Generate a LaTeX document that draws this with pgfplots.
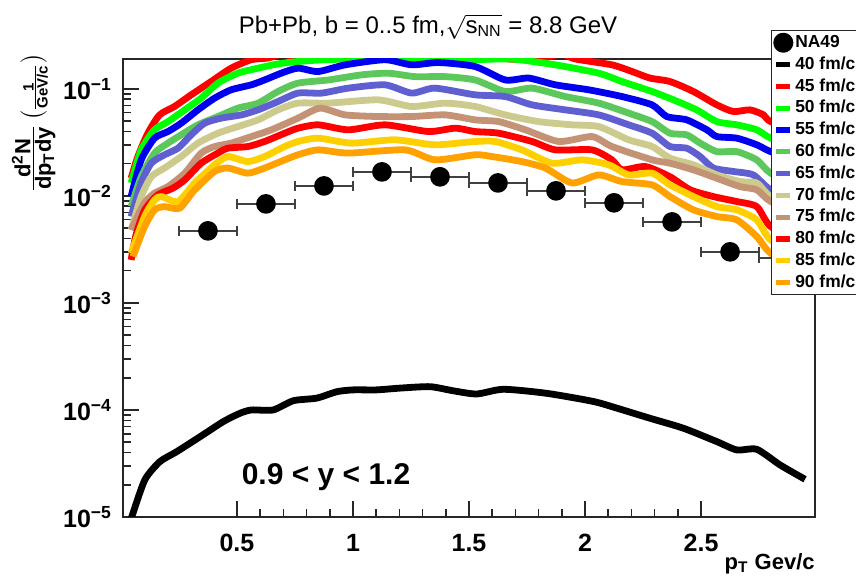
\documentclass[border=0pt]{standalone}
\usepackage{fontspec}
\setmainfont{Liberation Sans}
\usepackage{amsmath}
\usepackage{pgfplots}
\pgfplotsset{compat=1.18}
\definecolor{cRed}{HTML}{FF0000}
\definecolor{cGreen}{HTML}{00FF00}
\definecolor{cBlue}{HTML}{0000F0}
\definecolor{cMGreen}{HTML}{5CC85C}
\definecolor{cSlate}{HTML}{5F5FD2}
\definecolor{cKhaki}{HTML}{CDCA8E}
\definecolor{cTan}{HTML}{C49274}
\definecolor{cGold}{HTML}{FFD000}
\definecolor{cOrange}{HTML}{FFA200}
\begin{document}
\begin{tikzpicture}[x=1pt,y=1pt]
\path[use as bounding box] (0,0) rectangle (428,290.5);
\begin{axis}[name=ax, at={(61.5pt,32pt)}, anchor=south west, scale only axis,
  width=346pt, height=229pt,
  ymode=log, xmin=0.009, xmax=2.991, ymin=1e-5, ymax=0.19,
  axis line style={line width=0.8pt, black!85},
  xtick={0.5,1,1.5,2,2.5}, xticklabels={0.5,1,1.5,2,2.5},
  minor x tick num=4,
  ytick={1e-5,1e-4,1e-3,1e-2,1e-1},
  yticklabels={10\textsuperscript{−5},10\textsuperscript{−4},10\textsuperscript{−3},10\textsuperscript{−2},10\textsuperscript{−1}},
  xtick pos=bottom, ytick pos=left, tick align=inside,
  major tick length=8pt, minor tick length=4pt,
  tick style={line width=0.8pt, black!85},
  xticklabel style={font=\bfseries\fontsize{12.5}{12.5}\selectfont, yshift=-5pt},
  yticklabel style={font=\bfseries\fontsize{12.5}{12.5}\selectfont, xshift=-2pt},
  legend cell align=left,
  legend style={at={(0.936,1.063)}, anchor=north west, draw=black!85, fill=white,
    line width=0.6pt, font=\bfseries\fontsize{8.7}{9}\selectfont,
    inner sep=1pt, row sep=0.9pt,
    nodes={inner sep=1pt, text height=6.4pt, text depth=1.6pt}},
  legend image code/.code={\draw[#1, line width=2.6pt] (0pt,0pt) -- (7pt,0pt);},
  every axis plot/.append style={line width=3.4pt, line join=round},
]
% NA49 data
\addplot[only marks, mark=*, mark size=3.2pt, black,
  legend image code/.code={\fill[black] (3.5pt,0pt) circle (3.3pt);},
  error bars/.cd, x dir=both, x fixed=0.125, error mark=|,
  error bar style={line width=0.8pt, black!75},
  error mark options={line width=0.8pt, black!75, mark size=2.5pt}]
  coordinates {(0.375,0.00471)(0.625,0.00841)(0.875,0.01238)(1.125,0.01675)(1.375,0.01507)
  (1.625,0.01321)(1.875,0.01114)(2.125,0.00861)(2.375,0.00571)(2.625,0.00300)(2.875,0.00264)};
\addlegendentry{NA49}
% 40 fm/c
\addplot[black, smooth, tension=0.4] coordinates {(0.03,0.0000075)(0.046,0.0000099)(0.103,0.0000222)(0.168,0.0000329)(0.240,0.0000407)(0.341,0.0000562)(0.441,0.0000778)(0.513,0.0000931)(0.563,0.0001)(0.656,0.0001)(0.743,0.000122)(0.844,0.000129)(0.930,0.000148)(1.001,0.000154)(1.102,0.000154)(1.203,0.00016)(1.332,0.000165)(1.432,0.000151)(1.533,0.000141)(1.648,0.000156)(1.835,0.000143)(2.036,0.00012)(2.137,0.000104)(2.280,0.0000836)(2.424,0.0000675)(2.568,0.0000506)(2.654,0.0000423)(2.740,0.0000429)(2.841,0.0000306)(2.948,0.0000225)};
\addlegendentry{40 fm/c}
% 45 fm/c
\addplot[cRed, smooth, tension=0.4] coordinates {(0.044,0.0146)(0.073,0.0233)(0.116,0.0385)(0.167,0.0571)(0.231,0.0684)(0.303,0.0879)(0.389,0.117)(0.475,0.156)(0.562,0.187)(0.634,0.194)(0.70,0.212)(0.76,0.194)(0.85,0.196)(0.95,0.23)(1.2,0.25)(1.4,0.24)(1.55,0.22)(1.67,0.19)(1.80,0.19)(1.85,0.20)(1.90,0.212)(1.958,0.190)(2.116,0.1675)(2.203,0.145)(2.280,0.126)(2.366,0.117)(2.467,0.0944)(2.568,0.0708)(2.639,0.0614)(2.711,0.0636)(2.769,0.0571)(2.800,0.0494)(2.95,0.038)};
\addlegendentry{45 fm/c}
% 50 fm/c
\addplot[cGreen, smooth, tension=0.4] coordinates {(0.044,0.0132)(0.0875,0.0269)(0.145,0.0414)(0.203,0.0494)(0.275,0.0636)(0.346,0.0819)(0.418,0.113)(0.504,0.140)(0.591,0.156)(0.677,0.171)(0.763,0.180)(0.9,0.188)(1.1,0.19)(1.3,0.19)(1.513,0.187)(1.685,0.190)(1.872,0.1675)(2.059,0.140)(2.159,0.117)(2.289,0.0944)(2.381,0.0789)(2.481,0.0636)(2.568,0.0494)(2.654,0.0461)(2.740,0.0414)(2.800,0.0346)(2.95,0.027)};
\addlegendentry{50 fm/c}
% 55 fm/c
\addplot[cBlue, smooth, tension=0.4] coordinates {(0.044,0.00985)(0.0875,0.0217)(0.145,0.0346)(0.203,0.0399)(0.260,0.0478)(0.332,0.0636)(0.404,0.0819)(0.475,0.0979)(0.562,0.109)(0.619,0.121)(0.691,0.140)(0.763,0.156)(0.850,0.145)(0.966,0.1675)(1.138,0.187)(1.253,0.1675)(1.368,0.176)(1.526,0.1616)(1.656,0.121)(1.757,0.126)(1.872,0.109)(2.016,0.0979)(2.159,0.0847)(2.289,0.0708)(2.352,0.0551)(2.438,0.0513)(2.525,0.0414)(2.568,0.0358)(2.654,0.0346)(2.740,0.0300)(2.800,0.0259)(2.95,0.020)};
\addlegendentry{55 fm/c}
% 60 fm/c
\addplot[cMGreen, smooth, tension=0.4] coordinates {(0.044,0.00794)(0.0875,0.0151)(0.145,0.0251)(0.203,0.0311)(0.260,0.0372)(0.332,0.0461)(0.418,0.0551)(0.504,0.0660)(0.591,0.0735)(0.677,0.0944)(0.763,0.113)(0.894,0.121)(1.037,0.135)(1.152,0.140)(1.267,0.130)(1.397,0.130)(1.526,0.121)(1.656,0.0944)(1.772,0.1015)(1.915,0.0847)(2.059,0.0735)(2.188,0.0593)(2.289,0.0494)(2.366,0.0385)(2.438,0.0372)(2.496,0.0311)(2.568,0.0259)(2.654,0.0259)(2.740,0.0217)(2.800,0.0163)(2.95,0.0115)};
\addlegendentry{60 fm/c}
% 65 fm/c
\addplot[cSlate, smooth, tension=0.4] coordinates {(0.044,0.00641)(0.0875,0.0132)(0.131,0.0202)(0.188,0.0242)(0.246,0.0279)(0.303,0.0372)(0.361,0.0478)(0.432,0.0532)(0.519,0.0571)(0.591,0.0636)(0.677,0.0761)(0.763,0.0912)(0.865,0.0912)(0.980,0.1015)(1.138,0.109)(1.253,0.0912)(1.353,0.1015)(1.526,0.0879)(1.656,0.0847)(1.772,0.0708)(1.915,0.0636)(2.059,0.0571)(2.188,0.0461)(2.289,0.0385)(2.366,0.0289)(2.438,0.0279)(2.496,0.0233)(2.553,0.0182)(2.639,0.0169)(2.725,0.0157)(2.800,0.0114)(2.95,0.0085)};
\addlegendentry{65 fm/c}
% 70 fm/c
\addplot[cKhaki, smooth, tension=0.4] coordinates {(0.044,0.00481)(0.0875,0.00985)(0.131,0.0151)(0.188,0.0182)(0.260,0.0233)(0.332,0.0311)(0.418,0.0385)(0.504,0.0444)(0.591,0.0513)(0.677,0.0636)(0.763,0.0735)(0.894,0.0735)(1.109,0.0789)(1.253,0.0684)(1.397,0.0735)(1.526,0.0684)(1.656,0.0571)(1.800,0.0494)(1.944,0.0461)(2.059,0.0444)(2.188,0.0334)(2.289,0.0289)(2.366,0.0225)(2.467,0.0195)(2.568,0.0157)(2.668,0.0136)(2.740,0.0132)(2.800,0.00985)(2.95,0.0072)};
\addlegendentry{70 fm/c}
% 75 fm/c
\addplot[cTan, smooth, tension=0.4] coordinates {(0.044,0.0048)(0.10,0.0085)(0.145,0.0106)(0.203,0.01222)(0.275,0.0163)(0.346,0.0251)(0.404,0.0289)(0.475,0.0311)(0.562,0.0358)(0.648,0.0414)(0.763,0.0532)(0.858,0.0660)(0.966,0.0571)(1.109,0.0551)(1.253,0.0551)(1.397,0.0571)(1.526,0.0513)(1.628,0.0494)(1.743,0.0414)(1.887,0.0322)(2.030,0.0358)(2.116,0.0289)(2.289,0.0217)(2.366,0.0202)(2.467,0.0175)(2.568,0.0146)(2.668,0.0122)(2.740,0.0114)(2.800,0.00885)(2.95,0.0065)};
\addlegendentry{75 fm/c}
% 80 fm/c
\addplot[cRed, smooth, tension=0.4] coordinates {(0.044,0.00252)(0.065,0.00432)(0.103,0.0074)(0.159,0.0102)(0.224,0.0118)(0.275,0.0141)(0.346,0.0202)(0.418,0.0251)(0.461,0.0279)(0.547,0.0289)(0.619,0.0322)(0.706,0.0385)(0.763,0.0429)(0.850,0.0461)(0.980,0.0414)(1.138,0.0461)(1.325,0.0399)(1.440,0.0429)(1.526,0.0399)(1.628,0.0385)(1.772,0.0322)(1.872,0.0269)(2.030,0.0269)(2.116,0.0217)(2.159,0.0175)(2.260,0.0188)(2.366,0.0151)(2.453,0.0114)(2.553,0.00985)(2.654,0.00885)(2.740,0.00794)(2.800,0.00516)(2.95,0.0035)};
\addlegendentry{80 fm/c}
% 85 fm/c
\addplot[cGold, smooth, tension=0.4] coordinates {(0.044,0.00291)(0.102,0.00641)(0.145,0.00918)(0.174,0.00985)(0.246,0.00885)(0.318,0.0132)(0.404,0.0195)(0.461,0.0233)(0.547,0.0209)(0.619,0.0233)(0.706,0.0289)(0.763,0.0322)(0.850,0.0346)(0.994,0.0311)(1.181,0.0334)(1.353,0.0300)(1.526,0.0322)(1.613,0.0322)(1.728,0.0269)(1.858,0.0202)(1.987,0.0217)(2.102,0.0195)(2.188,0.0157)(2.289,0.0163)(2.366,0.01267)(2.467,0.00985)(2.568,0.00794)(2.654,0.0074)(2.740,0.00597)(2.800,0.00388)(2.95,0.0027)};
\addlegendentry{85 fm/c}
% 90 fm/c
\addplot[cOrange, smooth, tension=0.4] coordinates {(0.052,0.00271)(0.102,0.00516)(0.145,0.0074)(0.188,0.00794)(0.253,0.00767)(0.318,0.0114)(0.404,0.0169)(0.461,0.0182)(0.547,0.0163)(0.619,0.0182)(0.706,0.0217)(0.763,0.0242)(0.850,0.0269)(0.980,0.0251)(1.224,0.0269)(1.353,0.0217)(1.526,0.0242)(1.599,0.0233)(1.728,0.0209)(1.829,0.0182)(1.944,0.0132)(2.059,0.0157)(2.159,0.0136)(2.289,0.01267)(2.366,0.00985)(2.467,0.0074)(2.568,0.00641)(2.654,0.00597)(2.740,0.00417)(2.800,0.00291)(2.95,0.0020)};
\addlegendentry{90 fm/c}
\end{axis}
\node[inner sep=0pt, font=\fontsize{12}{12}\selectfont] at (214,277) {Pb+Pb, b = 0..5 fm,$\sqrt{\mbox{s\textsubscript{NN}}}$ = 8.8 GeV};
\node[rotate=90, font=\bfseries\fontsize{11}{11}\selectfont, inner sep=0pt] at (16.8,229) {$\frac{\mbox{d\textsuperscript{2}N}}{\mbox{dp\textsubscript{T}dy}}\left(\mbox{\fontsize{7.5}{8}\selectfont$\frac{\mbox{1}}{\mbox{GeV/c}}$}\right)$};
\node[anchor=north east, inner sep=0pt, font=\bfseries\fontsize{11}{11}\selectfont] at ([yshift=-18pt]ax.south east) {p\textsubscript{T} Gev/c};
\node[font=\bfseries\fontsize{15}{15}\selectfont] at (163,52) {0.9 < y < 1.2};
\end{tikzpicture}
\end{document}
